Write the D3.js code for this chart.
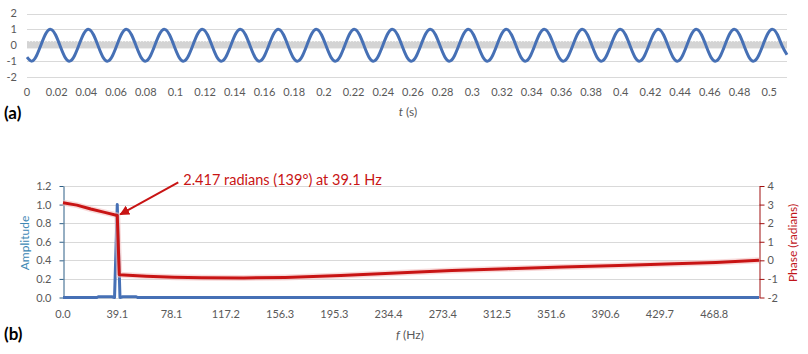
<!DOCTYPE html>
<html>
<head>
<meta charset="utf-8">
<title>Signal and spectrum</title>
<style>
    body { margin: 0; background: #fff; }
    svg { display: block; font-family: Lato, "Open Sans", sans-serif; }
    .tick text { fill: #595959; font-size: 11px; }
    .grid { stroke: #d9d9d9; stroke-width: 1; }
    .lbl { fill: #595959; font-size: 11px; }
</style>
</head>
<body>
<div id="chart"></div>

<script src="https://d3js.org/d3.v7.min.js"></script>
<script>
    // (a) time signal: one value every 0.0032 s
    var waveStep = 0.0032;
    var waveValues = [
        -0.75, -1, -0.66, 0.06, 0.75, 1, 0.66, -0.06,
        -0.75, -1, -0.66, 0.06, 0.75, 1, 0.66, -0.06,
        -0.75, -1, -0.66, 0.06, 0.75, 1, 0.66, -0.06,
        -0.75, -1, -0.66, 0.06, 0.75, 1, 0.66, -0.06,
        -0.75, -1, -0.66, 0.06, 0.75, 1, 0.66, -0.06,
        -0.75, -1, -0.66, 0.06, 0.75, 1, 0.66, -0.06,
        -0.75, -1, -0.66, 0.06, 0.75, 1, 0.66, -0.06,
        -0.75, -1, -0.66, 0.06, 0.75, 1, 0.66, -0.06,
        -0.75, -1, -0.66, 0.06, 0.75, 1, 0.66, -0.06,
        -0.75, -1, -0.66, 0.06, 0.75, 1, 0.66, -0.06,
        -0.75, -1, -0.66, 0.06, 0.75, 1, 0.66, -0.06,
        -0.75, -1, -0.66, 0.06, 0.75, 1, 0.66, -0.06,
        -0.75, -1, -0.66, 0.06, 0.75, 1, 0.66, -0.06,
        -0.75, -1, -0.66, 0.06, 0.75, 1, 0.66, -0.06,
        -0.75, -1, -0.66, 0.06, 0.75, 1, 0.66, -0.06,
        -0.75, -1, -0.66, 0.06, 0.75, 1, 0.66, -0.06,
        -0.75, -1, -0.66, 0.06, 0.75, 1, 0.66, -0.06,
        -0.75, -1, -0.66, 0.06, 0.75, 1, 0.66, -0.06,
        -0.75, -1, -0.66, 0.06, 0.75, 1, 0.66, -0.06,
        -0.75, -1, -0.66, 0.06, 0.75, 1, 0.66, -0.06,
        -0.6
    ];
    var waveTicks = [-2, -1, 0, 1, 2];
    var timeTicks = d3.range(0, 0.501, 0.02);
    // light grey trace round zero (drawn as a band)
    var bandLimits = [-0.2, 0.26];

    // (b) spectrum
    var ampFreq  = [0, 24.4, 25.4, 35.2, 37.11, 39.06, 41.02, 42.97, 52.7, 53.7, 501];
    var ampValue = [0, 0, 0.008, 0.008, 0, 1.0, 0, 0.008, 0.008, 0, 0];

    var phaseFreq  = [0, 10, 20, 30, 39.06, 40.5, 60, 80, 100, 130, 160, 200, 240, 280, 320, 360, 400, 440, 470, 501];
    var phaseValue = [3.1, 2.97, 2.76, 2.58, 2.417, -0.77, -0.85, -0.91, -0.94, -0.95, -0.92, -0.82, -0.68, -0.55, -0.45, -0.36, -0.28, -0.19, -0.11, 0.0];

    var ampTicks = [0, 0.2, 0.4, 0.6, 0.8, 1.0, 1.2];
    var phaseTicks = [-2, -1, 0, 1, 2, 3, 4];
    var freqTicks = [0, 39.0625, 78.125, 117.1875, 156.25, 195.3125, 234.375, 273.4375, 312.5, 351.5625, 390.625, 429.6875, 468.75];
    var freqTickLabels = ["0.0", "39.1", "78.1", "117.2", "156.3", "195.3", "234.4", "273.4", "312.5", "351.6", "390.6", "429.7", "468.8"];

    var noteFreq = 39.06, notePhase = 2.417;
    var noteText = "2.417 radians (139\u00b0) at 39.1 Hz";

    var width = 808, height = 354;
    var blue = "#4670b5", red = "#c81414";

    var svg = d3.select("#chart").append("svg")
        .attr("width", width)
        .attr("height", height);

    var defs = svg.append("defs");
    var pat = defs.append("pattern")
        .attr("id", "comb")
        .attr("patternUnits", "userSpaceOnUse")
        .attr("width", 3).attr("height", 20);
    pat.append("rect").attr("width", 3).attr("height", 20).attr("fill", "#d4d4d4");
    pat.append("rect").attr("x", 2).attr("width", 1).attr("height", 2).attr("fill", "#f0f0f0");

    defs.append("marker")
        .attr("id", "arrow")
        .attr("viewBox", "0 0 10 10")
        .attr("refX", 9).attr("refY", 5)
        .attr("markerWidth", 5).attr("markerHeight", 5)
        .attr("markerUnits", "strokeWidth")
        .attr("orient", "auto")
        .append("path")
        .attr("d", "M0,0 L10,5 L0,10 z")
        .attr("fill", red);

    // ---------- (a) ----------
    var xA = d3.scaleLinear().domain([0, 0.512]).range([27, 787]);
    var yA = d3.scaleLinear().domain([-2, 2]).range([77, 13.5]);

    var gA = svg.append("g");

    gA.selectAll(".gridA")
        .data(waveTicks)
        .enter().append("line")
        .attr("class", "grid")
        .attr("x1", xA.range()[0]).attr("x2", xA.range()[1])
        .attr("y1", function(d) { return Math.round(yA(d)) + 0.5; })
        .attr("y2", function(d) { return Math.round(yA(d)) + 0.5; });

    gA.append("rect")
        .attr("x", xA(0))
        .attr("width", xA(0.512) - xA(0))
        .attr("y", yA(bandLimits[1]))
        .attr("height", yA(bandLimits[0]) - yA(bandLimits[1]))
        .attr("fill", "url(#comb)");

    gA.selectAll(".ylabA")
        .data(waveTicks)
        .enter().append("text")
        .attr("class", "lbl")
        .attr("x", 17)
        .attr("y", function(d) { return yA(d); })
        .attr("dy", "0.35em")
        .attr("text-anchor", "end")
        .text(function(d) { return d; });

    gA.selectAll(".xlabA")
        .data(timeTicks)
        .enter().append("text")
        .attr("class", "lbl")
        .attr("x", function(d) { return xA(d); })
        .attr("y", 96)
        .attr("text-anchor", "middle")
        .text(function(d) { return +d.toFixed(2); });

    var waveLine = d3.line()
        .x(function(d, i) { return xA(i * waveStep); })
        .y(function(d) { return yA(d); })
        .curve(d3.curveNatural);

    gA.append("path")
        .datum(waveValues)
        .attr("d", waveLine)
        .attr("fill", "none")
        .attr("stroke", blue)
        .attr("stroke-width", 3)
        .attr("stroke-linejoin", "round");

    var tTitle = gA.append("text")
        .attr("x", 408).attr("y", 116)
        .attr("text-anchor", "middle")
        .attr("fill", "#595959")
        .style("font-size", "12px");
    tTitle.append("tspan").style("font-style", "italic").text("t");
    tTitle.append("tspan").text(" (s)");

    svg.append("text")
        .attr("x", 4).attr("y", 119)
        .style("font-size", "17px").style("font-weight", "bold")
        .attr("fill", "#000")
        .text("(a)");

    // ---------- (b) ----------
    var xB = d3.scaleLinear().domain([0, 501]).range([63, 759]);
    var yAmp = d3.scaleLinear().domain([0, 1.2]).range([297.5, 186]);
    var yPh = d3.scaleLinear().domain([-2, 4]).range([297.5, 186]);

    var gB = svg.append("g");

    gB.selectAll(".gridB")
        .data(ampTicks)
        .enter().append("line")
        .attr("class", "grid")
        .attr("x1", xB.range()[0]).attr("x2", xB.range()[1])
        .attr("y1", function(d) { return Math.round(yAmp(d)) + 0.5; })
        .attr("y2", function(d) { return Math.round(yAmp(d)) + 0.5; });

    var leftAxis = gB.append("g")
        .attr("transform", "translate(63.5,0)")
        .call(d3.axisLeft(yAmp).tickValues(ampTicks).tickFormat(d3.format(".1f"))
            .tickSize(4).tickSizeOuter(0).tickPadding(8));
    leftAxis.selectAll("path, line").attr("stroke", "#2d5f86");

    var rightAxis = gB.append("g")
        .attr("transform", "translate(759.5,0)")
        .call(d3.axisRight(yPh).tickValues(phaseTicks).tickFormat(function(d) { return d < 0 ? "-" + Math.abs(d) : d; })
            .tickSize(5).tickSizeOuter(0).tickPadding(3));
    rightAxis.selectAll("path, line").attr("stroke", "#a01010");
    gB.selectAll(".domain").attr("stroke-width", 1);
    gB.selectAll(".tick text").style("font-family", "Lato, 'Open Sans', sans-serif");

    gB.selectAll(".xlabB")
        .data(freqTicks)
        .enter().append("text")
        .attr("class", "lbl")
        .attr("x", function(d) { return xB(d); })
        .attr("y", 318)
        .attr("text-anchor", "middle")
        .text(function(d, i) { return freqTickLabels[i]; });

    var ampLine = d3.line()
        .x(function(d) { return xB(d[0]); })
        .y(function(d) { return yAmp(d[1]); });

    gB.append("path")
        .datum(d3.zip(ampFreq, ampValue))
        .attr("d", ampLine)
        .attr("fill", "none")
        .attr("stroke", blue)
        .attr("stroke-width", 3)
        .attr("stroke-linejoin", "round");

    var phaseLine = d3.line()
        .x(function(d) { return xB(d[0]); })
        .y(function(d) { return yPh(d[1]); });

    var phaseData = d3.zip(phaseFreq, phaseValue);
    gB.append("path")
        .datum(phaseData)
        .attr("d", phaseLine)
        .attr("fill", "none")
        .attr("stroke", "#f3c2c2")
        .attr("stroke-width", 6)
        .attr("stroke-opacity", 0.6);
    gB.append("path")
        .datum(phaseData)
        .attr("d", phaseLine)
        .attr("fill", "none")
        .attr("stroke", red)
        .attr("stroke-width", 3)
        .attr("stroke-linejoin", "round");

    // annotation
    var nx = xB(noteFreq), ny = yPh(notePhase);
    gB.append("line")
        .attr("x1", nx + 61).attr("y1", ny - 33)
        .attr("x2", nx + 3).attr("y2", ny - 1)
        .attr("stroke", red)
        .attr("stroke-width", 2)
        .attr("marker-end", "url(#arrow)");

    gB.append("text")
        .attr("x", nx + 66).attr("y", 185)
        .attr("fill", red)
        .style("font-size", "14.5px")
        .text(noteText);

    gB.append("text")
        .attr("transform", "translate(29,243) rotate(-90)")
        .attr("text-anchor", "middle")
        .attr("fill", "#3d87b4")
        .style("font-size", "12px")
        .text("Amplitude");

    gB.append("text")
        .attr("transform", "translate(797,243) rotate(-90)")
        .attr("text-anchor", "middle")
        .attr("fill", "#c0141a")
        .style("font-size", "12px")
        .text("Phase (radians)");

    var fTitle = gB.append("text")
        .attr("x", 410).attr("y", 339)
        .attr("text-anchor", "middle")
        .attr("fill", "#595959")
        .style("font-size", "12px");
    fTitle.append("tspan").style("font-style", "italic").text("f");
    fTitle.append("tspan").text(" (Hz)");

    svg.append("text")
        .attr("x", 4).attr("y", 340)
        .style("font-size", "17px").style("font-weight", "bold")
        .attr("fill", "#000")
        .text("(b)");
</script>

</body>
</html>
